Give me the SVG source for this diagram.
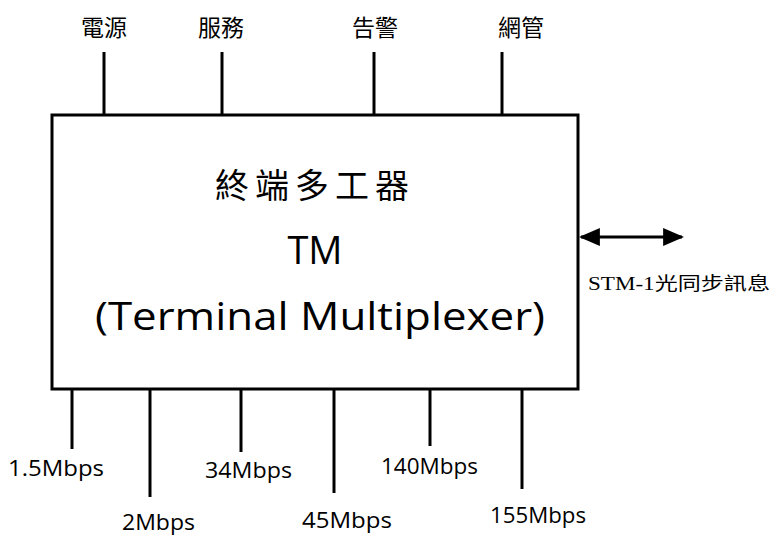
<svg xmlns="http://www.w3.org/2000/svg" width="776" height="536" viewBox="0 0 776 536">
<style>
.ln{stroke:#000;stroke-width:3;fill:none}
.cjk{font-family:"Noto Sans CJK TC","Noto Sans CJK SC",sans-serif;font-size:23px;fill:#000}
.lbl{font-family:"Open Sans","DejaVu Sans",sans-serif;font-size:21px;fill:#000}
.big{font-family:"Open Sans","DejaVu Sans",sans-serif;font-size:38px;fill:#000;text-anchor:middle}
</style>
<defs>
<marker id="ah" viewBox="0 0 10 10" refX="9" refY="5" markerWidth="7" markerHeight="6" orient="auto-start-reverse" markerUnits="strokeWidth" preserveAspectRatio="none">
<path d="M0,0 L10,5 L0,10 z" fill="#000"/>
</marker>
</defs>
<rect width="776" height="536" fill="#fff"/>
<g id="connectors">
<line class="ln" x1="104" y1="52" x2="104" y2="115"/>
<line class="ln" x1="222" y1="52" x2="222" y2="115"/>
<line class="ln" x1="374" y1="52" x2="374" y2="115"/>
<line class="ln" x1="502" y1="52" x2="502" y2="115"/>
<line class="ln" x1="72" y1="389" x2="72" y2="449"/>
<line class="ln" x1="150" y1="389" x2="150" y2="497"/>
<line class="ln" x1="241" y1="389" x2="241" y2="452"/>
<line class="ln" x1="334" y1="389" x2="334" y2="493"/>
<line class="ln" x1="430" y1="389" x2="430" y2="446"/>
<line class="ln" x1="522" y1="389" x2="522" y2="489"/>
<line class="ln" x1="581" y1="237" x2="682" y2="237" marker-start="url(#ah)" marker-end="url(#ah)"/>
</g>
<g id="tm">
<rect x="52" y="115" width="526" height="274" class="ln"/>
<text x="315" y="198" class="cjk" style="font-size:34px;letter-spacing:6px" text-anchor="middle">終端多工器</text>
<text x="315" y="264" class="big">TM</text>
<text x="320" y="330" class="big" textLength="450" lengthAdjust="spacingAndGlyphs">(Terminal Multiplexer)</text>
</g>
<g id="top-labels">
<text x="104" y="36" class="cjk" text-anchor="middle">電源</text>
<text x="221" y="36" class="cjk" text-anchor="middle">服務</text>
<text x="375" y="36" class="cjk" text-anchor="middle">告警</text>
<text x="521" y="36" class="cjk" text-anchor="middle">網管</text>
</g>
<g id="stm">
<text x="588" y="290" style="font-family:'Liberation Serif','Noto Sans CJK TC',serif;font-size:18px" textLength="182" lengthAdjust="spacingAndGlyphs">STM-1光同步訊息</text>
</g>
<g id="bottom-labels">
<text x="8" y="476" class="lbl" textLength="96" lengthAdjust="spacingAndGlyphs">1.5Mbps</text>
<text x="122" y="530" class="lbl" textLength="73" lengthAdjust="spacingAndGlyphs">2Mbps</text>
<text x="205" y="478" class="lbl" textLength="87" lengthAdjust="spacingAndGlyphs">34Mbps</text>
<text x="302" y="528" class="lbl" textLength="90" lengthAdjust="spacingAndGlyphs">45Mbps</text>
<text x="381" y="474" class="lbl" textLength="97" lengthAdjust="spacingAndGlyphs">140Mbps</text>
<text x="490" y="523" class="lbl" textLength="96" lengthAdjust="spacingAndGlyphs">155Mbps</text>
</g>
</svg>
